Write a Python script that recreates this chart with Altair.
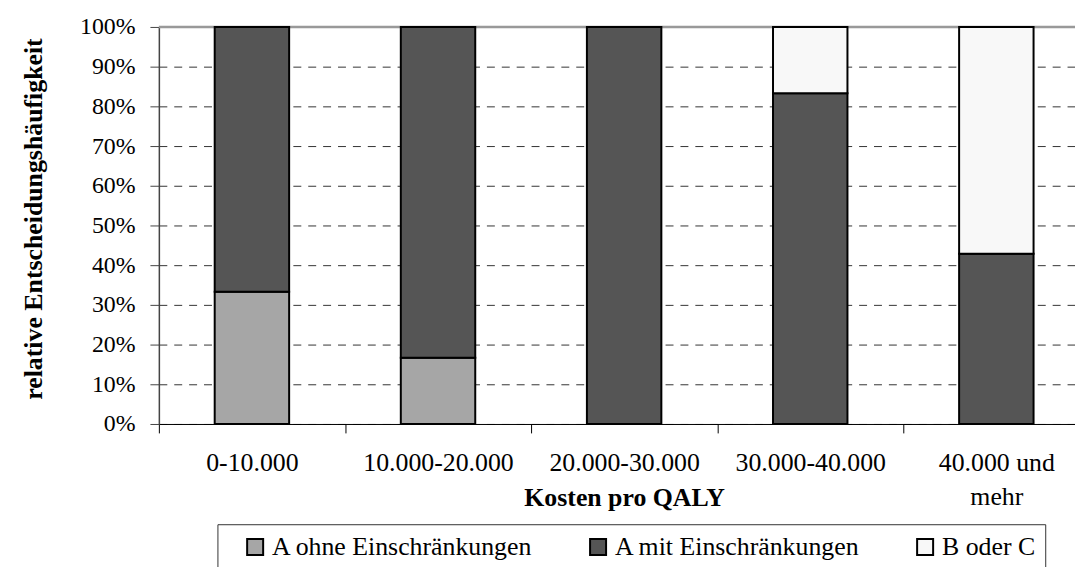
import altair as alt
import pandas as pd

categories = ["0-10.000", "10.000-20.000", "20.000-30.000", "30.000-40.000", "40.000 und mehr"]
series = ["A ohne Einschränkungen", "A mit Einschränkungen", "B oder C"]
a_ohne = [33.3, 16.7, 0.0, 0.0, 0.0]
a_mit = [66.7, 83.3, 100.0, 83.3, 42.9]
b_oder_c = [0.0, 0.0, 0.0, 16.7, 57.1]
colors = ["#a6a6a6", "#555555", "#f8f8f8"]
y_ticks = [0, 10, 20, 30, 40, 50, 60, 70, 80, 90, 100]

rows = []
for si, (name, vals) in enumerate(zip(series, [a_ohne, a_mit, b_oder_c])):
    for cat, v in zip(categories, vals):
        if v > 0:
            rows.append({"Kategorie": cat, "Serie": name, "Wert": v, "idx": si})
df = pd.DataFrame(rows)

FONT = "Liberation Serif"

y_scale = alt.Scale(domain=[0, 100], nice=False)
y_axis = alt.Axis(
    title="relative Entscheidungshäufigkeit",
    titleFont=FONT,
    titleFontSize=26,
    titleFontWeight="bold",
    titleColor="black",
    titleAngle=270,
    titleX=-118.3,
    titleY=193,
    titleBaseline="alphabetic",
    titleAlign="center",
    values=y_ticks,
    labelExpr="datum.value + '%'",
    labelFont=FONT,
    labelFontSize=24,
    labelColor="black",
    labelPadding=15,
    labelOverlap=False,
    tickSize=9,
    tickColor="#444444",
    domainColor="#444444",
    domainWidth=1.5,
    grid=True,
    gridDash=[8, 7],
    gridColor="#333333",
    gridWidth=1,
)

top_line = alt.Chart(pd.DataFrame({"y": [100]})).mark_rule(color="#999999", strokeWidth=2.5).encode(
    y=alt.Y("y:Q", scale=y_scale, axis=y_axis, title="relative Entscheidungshäufigkeit")
)

bars = alt.Chart(df).mark_bar(
    stroke="black", strokeWidth=2, width=alt.RelativeBandSize(0.4)
).encode(
    x=alt.X(
        "Kategorie:N",
        sort=categories,
        scale=alt.Scale(range=[0, 937.5], paddingInner=0, paddingOuter=0),
        axis=alt.Axis(
            title="Kosten pro QALY",
            titleFont=FONT,
            titleFontSize=26,
            titleFontWeight="bold",
            titleColor="black",
            titleX=468.75,
            titleY=81.7,
            titleBaseline="alphabetic",
            titleAlign="center",
            labelFont=FONT,
            labelFontSize=26,
            labelColor="black",
            labelAngle=0,
            labelBaseline="alphabetic",
            labelPadding=37.7,
            labelLineHeight=34.5,
            labelLimit=400,
            labelOverlap=False,
            labelExpr="datum.value == '40.000 und mehr' ? ['40.000 und', 'mehr'] : datum.value",
            tickBand="extent",
            tickSize=9,
            tickColor="black",
            tickWidth=1,
            domainColor="black",
            domainWidth=1,
            grid=False,
        ),
    ),
    y=alt.Y("Wert:Q", stack="zero", scale=y_scale, axis=y_axis, title="relative Entscheidungshäufigkeit"),
    color=alt.Color(
        "Serie:N",
        sort=series,
        scale=alt.Scale(domain=series, range=colors),
        legend=alt.Legend(
            title=None,
            orient="none",
            legendX=59,
            legendY=501,
            direction="horizontal",
            strokeColor="#333333",
            padding=10,
            symbolType="square",
            symbolSize=260,
            symbolStrokeColor="black",
            symbolStrokeWidth=2,
            symbolOffset=15,
            labelOffset=4,
            columnPadding=37.5,
            labelFont=FONT,
            labelFontSize=26,
            labelColor="black",
            labelLimit=400,
        ),
    ),
    order=alt.Order("idx:Q", sort="ascending"),
)

chart = alt.layer(top_line, bars).properties(
    width=923,
    height=400,
    autosize=alt.AutoSizeParams(type="none"),
    padding={"left": 152, "top": 17, "right": 0, "bottom": 142},
).configure_view(stroke=None).configure(font=FONT, background="white")

chart.save("out.html", embed_options={"renderer": "svg", "actions": False})
